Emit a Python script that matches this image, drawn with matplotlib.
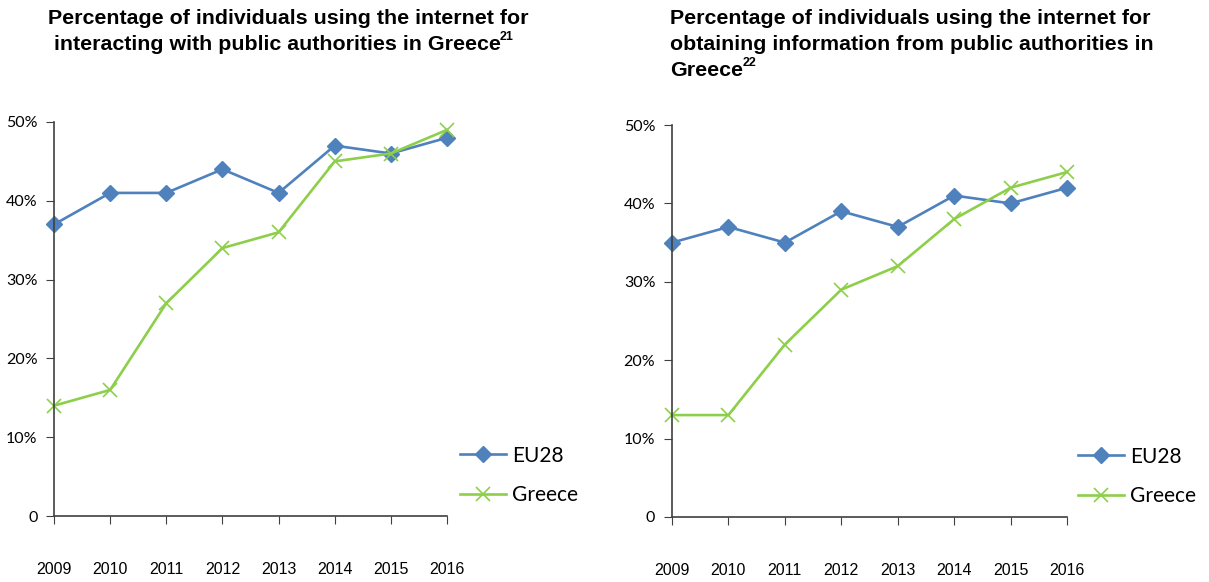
import matplotlib.pyplot as plt
from matplotlib.ticker import FuncFormatter

years = ["2009", "2010", "2011", "2012", "2013", "2014", "2015", "2016"]

# share of individuals (%) interacting with public authorities online
eu28_interact = [37, 41, 41, 44, 41, 47, 46, 48]
greece_interact = [14, 16, 27, 34, 36, 45, 46, 49]

# share of individuals (%) obtaining information from public authorities
eu28_info = [35, 37, 35, 39, 37, 41, 40, 42]
greece_info = [13, 13, 22, 29, 32, 38, 42, 44]

yticks = [0, 10, 20, 30, 40, 50]

BLUE = "#4F81BD"
GREEN = "#8DCF4A"
AXIS = "#404040"

fig = plt.figure(figsize=(12.09, 5.82), dpi=100)

ax1 = fig.add_axes([0.0447, 0.1134, 0.3250, 0.6770])
ax2 = fig.add_axes([0.5558, 0.1117, 0.3268, 0.6735])


def pct(v, pos):
    return "0" if v == 0 else "%d%%" % v


def draw(ax, eu, gr, legend_xy):
    x = list(range(len(years)))
    ax.plot(x, eu, color=BLUE, lw=1.9, marker="D", ms=8.5, mec=BLUE,
            mfc=BLUE, label="EU28", zorder=3, clip_on=False)
    ax.plot(x, gr, color=GREEN, lw=1.9, marker="x", ms=10, mew=1.2,
            mec=GREEN, label="Greece", zorder=3, clip_on=False)
    ax.set_xlim(0, len(years) - 1)
    ax.set_ylim(0, 50)
    ax.set_xticks(x)
    ax.set_xticklabels(years, family="Liberation Sans", fontsize=11.5)
    ax.set_yticks(yticks)
    ax.yaxis.set_major_formatter(FuncFormatter(pct))
    for lab in ax.get_yticklabels():
        lab.set_family("Lato")
        lab.set_fontsize(11.5)
    ax.tick_params(axis="x", length=6, direction="out", pad=27, colors=AXIS,
                   labelcolor="black")
    ax.tick_params(axis="y", length=6, direction="out", pad=6, colors=AXIS,
                   labelcolor="black")
    for side in ("top", "right"):
        ax.spines[side].set_visible(False)
    for side in ("left", "bottom"):
        ax.spines[side].set_color(AXIS)
        ax.spines[side].set_linewidth(1.2)
        ax.spines[side].set_zorder(4)
    ax.legend(loc="lower left", bbox_to_anchor=legend_xy, frameon=False,
              prop={"family": "Lato", "size": 15}, handlelength=2.2,
              labelspacing=0.95, handletextpad=0.3, borderaxespad=0,
              borderpad=0)


draw(ax1, eu28_interact, greece_interact, (1.033, 0.027))
draw(ax2, eu28_info, greece_info, (1.028, 0.027))

title_kw = dict(fontsize=15.4, fontweight="bold", family="Liberation Sans",
                va="center", ha="left")
sup_kw = dict(fontsize=9, fontweight="bold", family="Liberation Sans",
              va="center", ha="left")
fig.text(48 / 1209, 1 - 19 / 582,
         "Percentage of individuals using the internet for", **title_kw)
fig.text(54 / 1209, 1 - 44 / 582,
         "interacting with public authorities in Greece", **title_kw)
fig.text(500 / 1209, 1 - 37 / 582, "21", **sup_kw)

fig.text(670 / 1209, 1 - 19 / 582,
         "Percentage of individuals using the internet for", **title_kw)
fig.text(670 / 1209, 1 - 45 / 582,
         "obtaining information from public authorities in", **title_kw)
fig.text(670 / 1209, 1 - 70 / 582, "Greece", **title_kw)
fig.text(743 / 1209, 1 - 63 / 582, "22", **sup_kw)

fig.savefig("out.png", dpi=100, facecolor="white")
